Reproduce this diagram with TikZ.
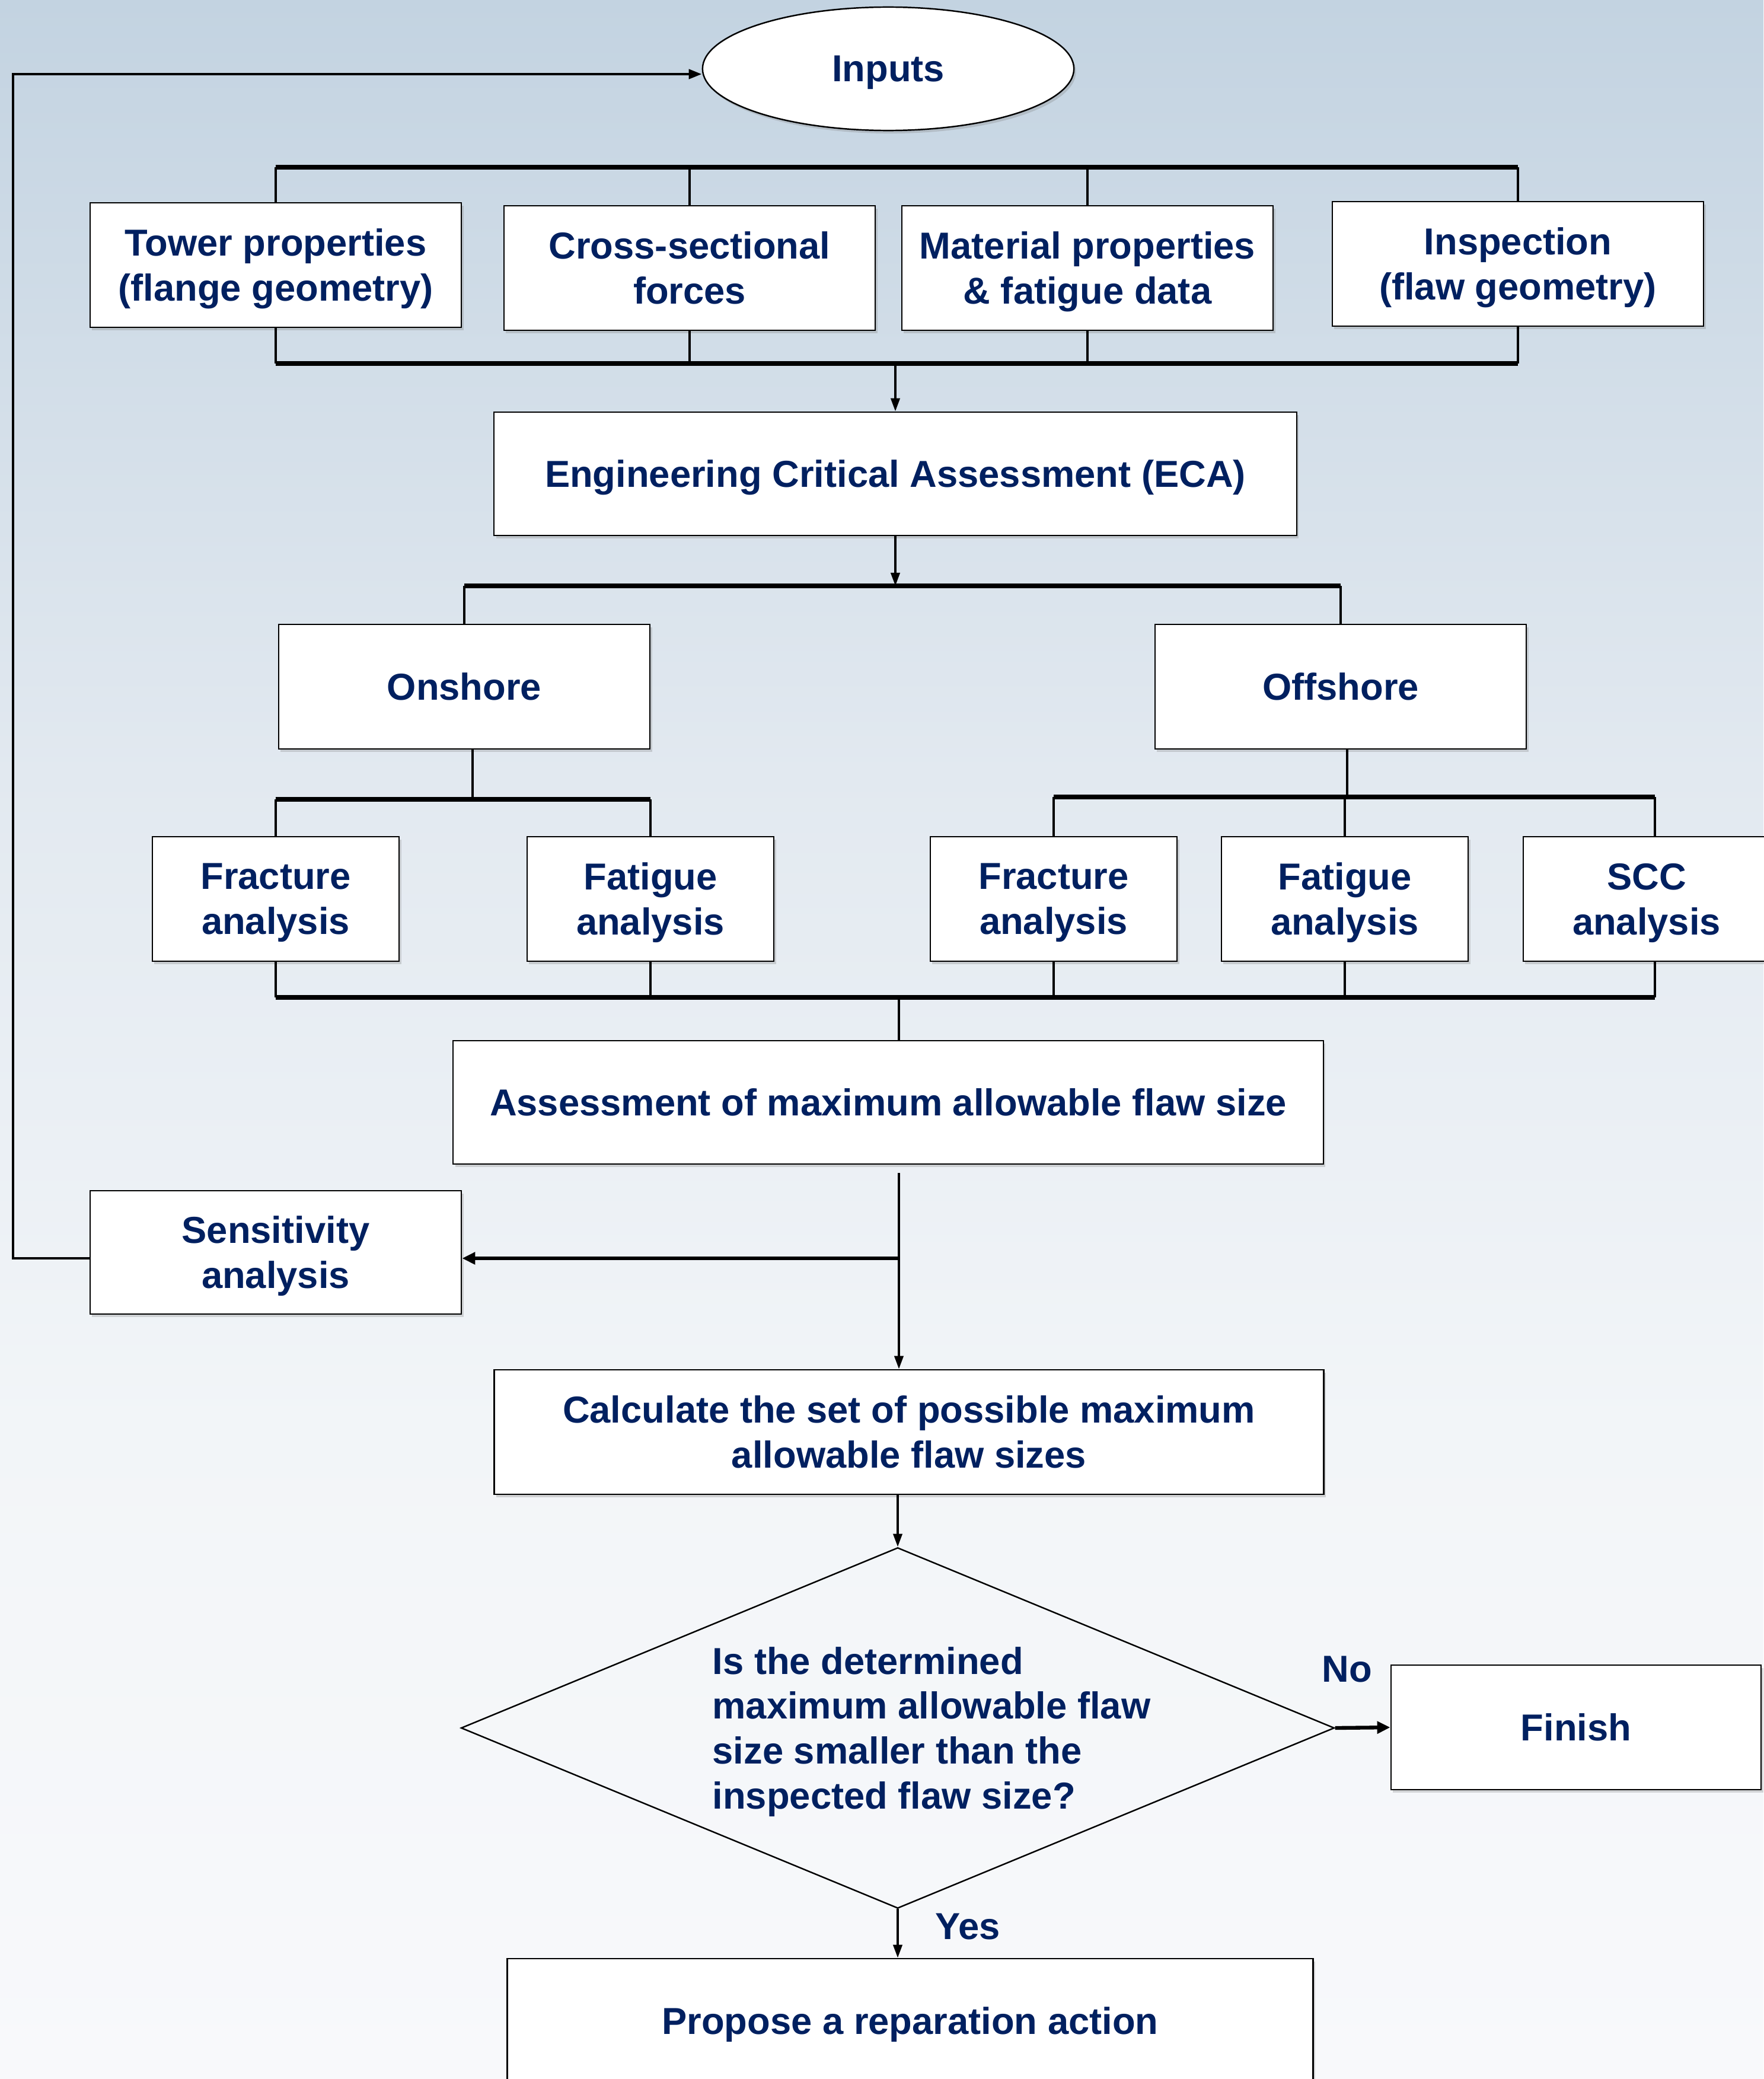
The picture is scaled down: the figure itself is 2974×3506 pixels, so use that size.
\documentclass[tikz,border=0pt]{standalone}
\usepackage{fontspec}
\setmainfont{Liberation Sans}
\usetikzlibrary{shapes.geometric,arrows.meta,shadows,calc}
\definecolor{txt}{RGB}{0,32,96}
\definecolor{bgA}{RGB}{195,211,225}
\definecolor{bgB}{RGB}{226,233,240}
\definecolor{bgC}{RGB}{242,245,248}
\definecolor{bgD}{RGB}{248,249,251}
\begin{document}
\begin{tikzpicture}[x=0.01cm,y=-0.01cm,
  fnt/.style={font=\fontsize{18}{21.6}\selectfont\bfseries, text=txt},
  box/.style={rectangle, draw=black, line width=0.7pt, fill=white, align=center, fnt, inner sep=0pt, text depth=0pt,
    drop shadow={shadow xshift=0.035cm, shadow yshift=-0.05cm, opacity=0.3}},
  link/.style={line width=1.1pt, draw=black},
  bus/.style={line width=2.2pt, draw=black},
  arr/.style={link, -{Triangle[length=0.22cm,width=0.15cm]}},
  arrthick/.style={line width=1.8pt, draw=black, -{Triangle[length=0.22cm,width=0.2cm]}}]
\useasboundingbox (0,0) rectangle (2974,3506);
% background
\shade[top color=bgA, bottom color=bgB] (0,0) rectangle (2974,1305);
\shade[top color=bgB, bottom color=bgC] (0,1300) rectangle (2974,2405);
\shade[top color=bgC, bottom color=bgD] (0,2400) rectangle (2974,3506);

% nodes
\node[ellipse, draw=black, line width=0.7pt, fill=white, fnt, text depth=0pt, minimum width=6.26cm, minimum height=2.08cm,
  drop shadow={shadow xshift=0.035cm, shadow yshift=-0.05cm, opacity=0.3}] (inputs) at (1498,116) {Inputs};
\node[box, minimum width=6.26cm, minimum height=2.1cm] (tower) at (465,447) {Tower properties\\(flange geometry)};
\node[box, minimum width=6.26cm, minimum height=2.1cm] (cross) at (1163,452) {Cross-sectional\\forces};
\node[box, minimum width=6.26cm, minimum height=2.1cm] (material) at (1834,452) {Material properties\\\& fatigue data};
\node[box, minimum width=6.26cm, minimum height=2.1cm] (inspection) at (2560,445) {Inspection\\(flaw geometry)};
\node[box, minimum width=13.53cm, minimum height=2.08cm] (eca) at (1510,799) {Engineering Critical Assessment (ECA)};
\node[box, minimum width=6.26cm, minimum height=2.1cm] (onshore) at (783,1158) {Onshore};
\node[box, minimum width=6.26cm, minimum height=2.1cm] (offshore) at (2261,1158) {Offshore};
\node[box, minimum width=4.16cm, minimum height=2.1cm] (fron) at (465,1516) {Fracture\\analysis};
\node[box, minimum width=4.16cm, minimum height=2.1cm] (faton) at (1097,1516) {Fatigue\\analysis};
\node[box, minimum width=4.16cm, minimum height=2.1cm] (froff) at (1777,1516) {Fracture\\analysis};
\node[box, minimum width=4.16cm, minimum height=2.1cm] (fatoff) at (2268,1516) {Fatigue\\analysis};
\node[box, minimum width=4.16cm, minimum height=2.1cm] (scc) at (2777,1516) {SCC\\analysis};
\node[box, minimum width=14.67cm, minimum height=2.08cm] (assess) at (1498,1859) {Assessment of maximum allowable flaw size};
\node[box, minimum width=6.26cm, minimum height=2.08cm] (sens) at (465,2112) {Sensitivity\\analysis};
\node[box, minimum width=13.98cm, minimum height=2.1cm] (calc) at (1533,2415) {Calculate the set of possible maximum\\allowable flaw sizes};
\node[diamond, draw=black, line width=0.7pt, minimum width=14.72cm, minimum height=6.08cm, inner sep=0pt] (dec) at (1514,2914) {};
\node[fnt, align=left, anchor=west, inner sep=0pt, text depth=0pt] (dectext) at (1201,2914) {Is the determined\\maximum allowable flaw\\size smaller than the\\inspected flaw size?};
\node[box, minimum width=6.24cm, minimum height=2.1cm] (finish) at (2658,2913) {Finish};
\node[box, minimum width=13.58cm, minimum height=2.1cm] (propose) at (1535,3408) {Propose a reparation action};
\node[fnt] (no) at (2272,2815) {No};
\node[fnt] (yes) at (1632,3249) {Yes};

% helper coordinates
\coordinate (yIn) at (0,125);
\coordinate (yA) at (0,282);
\coordinate (yB) at (0,613);
\coordinate (yC) at (0,988);
\coordinate (yD) at (0,1348);
\coordinate (yDo) at (0,1344);
\coordinate (yE) at (0,1682);
\coordinate (yF) at (0,2122);
\coordinate (xm) at (1516,0);
\coordinate (xscc) at (2791,0);
\coordinate (xL) at (22,0);

% inputs buses
\draw[bus] (tower.north |- yA) -- (inspection.north |- yA);
\foreach \n in {tower,cross,material,inspection} \draw[link] (\n.north) -- (\n.north |- yA);
\draw[bus] (tower.south |- yB) -- (inspection.south |- yB);
\foreach \n in {tower,cross,material,inspection} \draw[link] (\n.south) -- (\n.south |- yB);
\draw[arr] (eca.north |- yB) -- (eca.north);
% ECA to onshore/offshore
\draw[arr] (eca.south) -- (eca.south |- yC);
\draw[bus] (onshore.north |- yC) -- (offshore.north |- yC);
\draw[link] (onshore.north |- yC) -- (onshore.north);
\draw[link] (offshore.north |- yC) -- (offshore.north);
% onshore branch
\draw[link] ($(onshore.south)+(14,0)$) -- ($(onshore.south |- yD)+(14,0)$);
\draw[bus] (fron.north |- yD) -- (faton.north |- yD);
\draw[link] (fron.north |- yD) -- (fron.north);
\draw[link] (faton.north |- yD) -- (faton.north);
% offshore branch
\draw[link] ($(offshore.south)+(11,0)$) -- ($(offshore.south |- yDo)+(11,0)$);
\draw[bus] (froff.north |- yDo) -- (xscc |- yDo);
\draw[link] (froff.north |- yDo) -- (froff.north);
\draw[link] (fatoff.north |- yDo) -- (fatoff.north);
\draw[link] (xscc |- yDo) -- (xscc |- scc.north);
% collect analyses
\draw[bus] (fron.south |- yE) -- (xscc |- yE);
\foreach \n in {fron,faton,froff,fatoff} \draw[link] (\n.south) -- (\n.south |- yE);
\draw[link] (xscc |- scc.south) -- (xscc |- yE);
\draw[link] (xm |- yE) -- (xm |- assess.north);
% assessment to calc and sensitivity
\draw[arr] ($(xm |- assess.south)+(0,14)$) -- (xm |- calc.north);
\draw[arrthick] (xm |- yF) -- (sens.east |- yF);
\draw[link, line width=1.3pt, -{Triangle[length=0.22cm,width=0.16cm]}] (sens.west |- yF) -- (xL |- yF) -- (xL |- yIn) -- (inputs.west |- yIn);
% decision
\draw[arr] (calc.south -| dec.north) -- (dec.north);
\draw[arrthick] (dec.east) -- (finish.west);
\draw[arr] (dec.south) -- (dec.south |- propose.north);
\end{tikzpicture}
\end{document}
